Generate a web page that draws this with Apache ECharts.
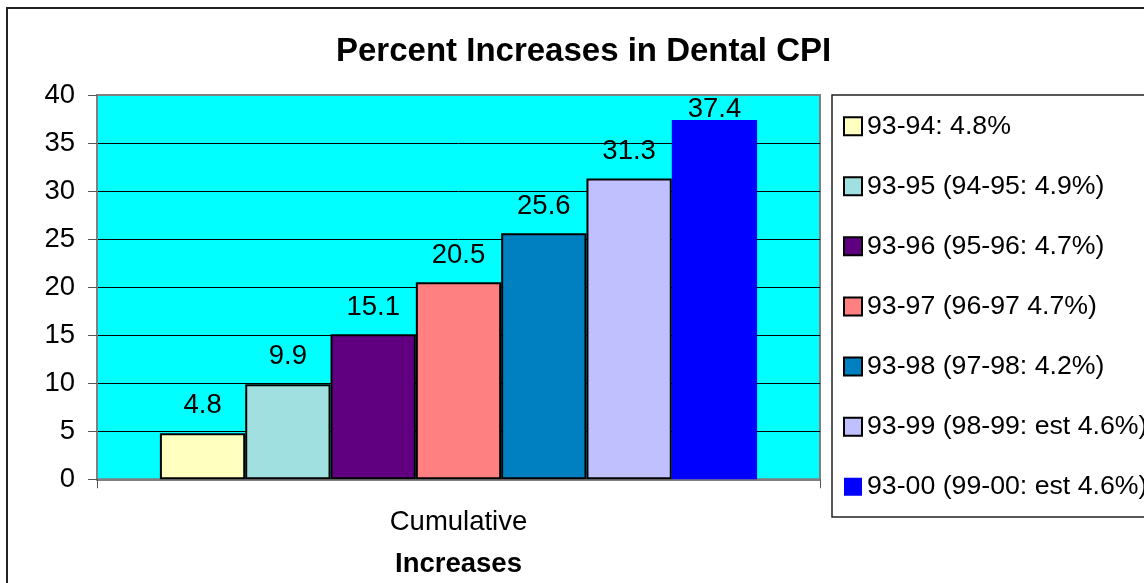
<!DOCTYPE html>
<html>
<head>
<meta charset="utf-8">
<script src="https://cdn.jsdelivr.net/npm/echarts@6/dist/echarts.min.js"></script>
<style>
html,body{margin:0;padding:0;background:#fff;}
#c{width:1144px;height:583px;}
</style>
</head>
<body>
<div id="c"></div>
<script>
const categories = ['Cumulative'];
const seriesNames = [
  '93-94: 4.8%',
  '93-95 (94-95: 4.9%)',
  '93-96 (95-96: 4.7%)',
  '93-97 (96-97 4.7%)',
  '93-98 (97-98: 4.2%)',
  '93-99 (98-99: est 4.6%)',
  '93-00 (99-00: est 4.6%)'
];
const seriesValues = [4.8, 9.9, 15.1, 20.5, 25.6, 31.3, 37.4];
const seriesColors = ['#FFFFC0', '#A0E0E0', '#600080', '#FF8080', '#0080C0', '#C0C0FF', '#0000FF'];
const yTicks = [0, 5, 10, 15, 20, 25, 30, 35, 40];

const FONT = '"Liberation Sans", Arial, sans-serif';
const FS = 27.5;
const LFS = 26.7;

const series = seriesNames.map((name, i) => {
  const last = i === seriesNames.length - 1;
  return {
    name: name,
    type: 'bar',
    data: [seriesValues[i]],
    barGap: '0%',
    barCategoryGap: '17.4%',
    itemStyle: {
      color: seriesColors[i],
      borderColor: last ? seriesColors[i] : '#000',
      borderWidth: last ? 0 : 2
    },
    label: {
      show: true,
      position: 'top',
      distance: last ? -3 : 13.5,
      color: '#000',
      fontSize: FS,
      fontFamily: FONT,
      lineHeight: FS
    }
  };
});

const chart = echarts.init(document.getElementById('c'), null, {renderer: 'canvas'});
chart.setOption({
  animation: false,
  backgroundColor: '#fff',
  title: {
    text: 'Percent Increases in Dental CPI',
    left: 336,
    top: 35,
    padding: 0,
    textStyle: {fontSize: 33, fontWeight: 'bold', fontFamily: FONT, color: '#000', lineHeight: 33}
  },
  graphic: [{
    type: 'rect',
    silent: true,
    shape: {x: 7, y: 8, width: 1400, height: 800},
    style: {fill: 'none', stroke: '#222', lineWidth: 2},
    z: -10
  }],
  legend: {
    orient: 'vertical',
    left: 832,
    top: 95,
    padding: [17.65, 80, 16.65, 11],
    itemWidth: 18,
    itemHeight: 18,
    itemGap: 33.1,
    icon: 'rect',
    borderColor: '#222',
    borderWidth: 1.5,
    backgroundColor: '#fff',
    textStyle: {fontSize: LFS, fontFamily: FONT, color: '#000', lineHeight: LFS},
    data: seriesNames
  },
  grid: {
    left: 97, right: 324, top: 95, bottom: 102,
    show: true,
    backgroundColor: '#00FFFF',
    borderColor: '#808080',
    borderWidth: 2
  },
  xAxis: {
    type: 'category',
    data: categories,
    name: 'Increases',
    nameLocation: 'middle',
    nameGap: 71,
    nameTextStyle: {fontSize: FS, fontWeight: 'bold', fontFamily: FONT, color: '#000', lineHeight: FS},
    axisLine: {lineStyle: {color: '#808080', width: 2}},
    axisTick: {show: true, length: 9, lineStyle: {color: '#555', width: 1}},
    axisLabel: {fontSize: FS, fontFamily: FONT, color: '#000', margin: 29, lineHeight: FS}
  },
  yAxis: {
    type: 'value',
    min: yTicks[0],
    max: yTicks[yTicks.length - 1],
    interval: yTicks[1] - yTicks[0],
    axisLine: {show: true, lineStyle: {color: '#808080', width: 2}},
    axisTick: {show: true, length: 9, lineStyle: {color: '#555', width: 1}},
    axisLabel: {fontSize: FS, fontFamily: FONT, color: '#000', margin: 22, lineHeight: FS, padding: [5, 0, 0, 0]},
    splitLine: {show: true, showMinLine: false, showMaxLine: false, lineStyle: {color: '#000', width: 1}}
  },
  series: series
});
</script>
</body>
</html>
